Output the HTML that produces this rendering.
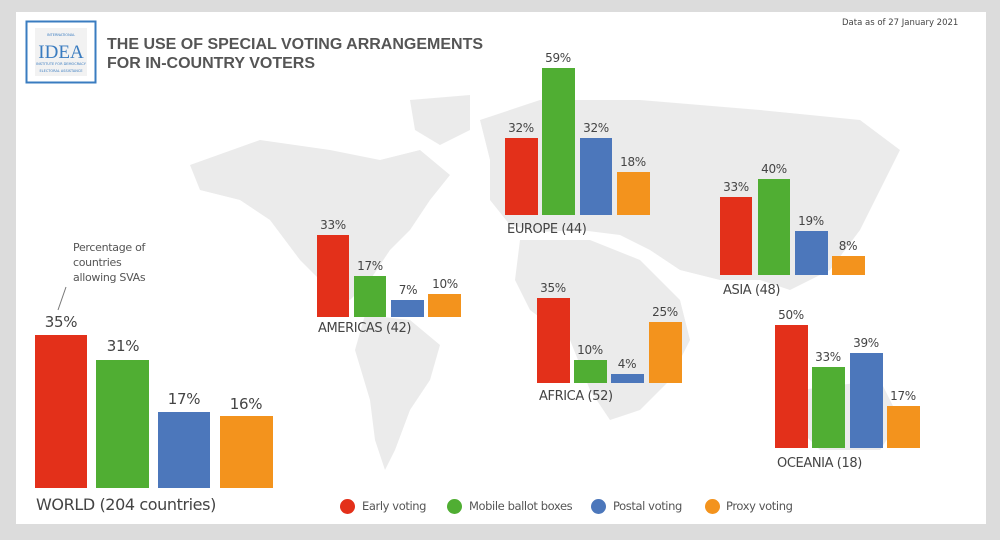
<!DOCTYPE html>
<html><head><meta charset="utf-8"><style>
body{margin:0;width:1000px;height:540px;background:#dcdcdc;position:relative;overflow:hidden;font-family:"DejaVu Sans","Liberation Sans",sans-serif}
#p{position:absolute;left:16px;top:12px;width:970px;height:512px;background:#fff}
.b{position:absolute}
.l{position:absolute;font-size:12px;color:#444;text-align:center;width:50px;transform:translateX(-50%);letter-spacing:-0.3px}
.t{position:absolute;font-size:13px;color:#444;letter-spacing:-0.4px}
.lg{position:absolute;top:499px;width:15px;height:15px;border-radius:50%}
.lt{position:absolute;top:499px;font-size:11.5px;color:#555;letter-spacing:-0.4px}
</style></head><body>
<div id="p"></div>
<svg style="position:absolute;left:0;top:0" width="1000" height="540">
<g fill="#ebebeb">
<path d="M190 165 L260 140 L330 150 L380 160 L420 150 L450 175 L430 200 L410 230 L390 250 L370 280 L350 300 L330 290 L300 260 L270 220 L240 200 L200 190 Z"/>
<path d="M365 315 L410 320 L440 345 L430 380 L410 410 L395 450 L385 470 L375 440 L370 400 L355 350 Z"/>
<path d="M480 120 L540 100 L640 100 L760 110 L860 120 L900 150 L880 190 L860 230 L830 270 L790 290 L760 280 L720 280 L680 270 L650 250 L620 235 L580 230 L540 232 L510 225 L490 200 L490 160 Z"/>
<path d="M520 240 L590 240 L640 260 L680 300 L690 340 L670 380 L640 410 L610 420 L590 390 L570 340 L530 310 L515 280 Z"/>
<path d="M800 390 L880 380 L900 420 L880 450 L820 450 L800 430 Z"/>
<path d="M410 100 L470 95 L470 130 L440 145 L415 130 Z"/>
</g>
<line x1="66" y1="287" x2="58" y2="310" stroke="#777" stroke-width="1"/>
<rect x="26.5" y="21.5" width="69" height="61" fill="#fff" stroke="#3a7cc0" stroke-width="2"/>
<rect x="35" y="28" width="52" height="48" fill="#f2f2f2"/>
<text x="61" y="58" font-family="Liberation Serif" font-size="19" fill="#3a7cc0" text-anchor="middle">IDEA</text>
<text x="61" y="36" font-size="3.5" fill="#3a7cc0" text-anchor="middle">INTERNATIONAL</text>
<text x="61" y="65" font-size="3.5" fill="#3a7cc0" text-anchor="middle">INSTITUTE FOR DEMOCRACY</text>
<text x="61" y="72" font-size="3.5" fill="#3a7cc0" text-anchor="middle">ELECTORAL ASSISTANCE</text>
</svg>
<div style="position:absolute;left:107px;top:35px;font:bold 16px 'Liberation Sans',sans-serif;color:#555;line-height:19px">THE USE OF SPECIAL VOTING ARRANGEMENTS<br>FOR IN-COUNTRY VOTERS</div>
<div style="position:absolute;left:842px;top:18px;font-size:8.5px;color:#444">Data as of 27 January 2021</div>
<div style="position:absolute;left:73px;top:240px;font-size:11px;color:#555;line-height:15px;letter-spacing:-0.3px">Percentage of<br>countries<br>allowing SVAs</div>

<div class="b" style="left:35px;top:335px;width:52px;height:153px;background:#e3301a"></div>
<div class="b" style="left:96px;top:360px;width:53px;height:128px;background:#50ae33"></div>
<div class="b" style="left:158px;top:412px;width:52px;height:76px;background:#4c77bb"></div>
<div class="b" style="left:220px;top:416px;width:53px;height:72px;background:#f3931d"></div>
<div class="l" style="left:61px;top:313px;font-size:15px">35%</div>
<div class="l" style="left:123px;top:337px;font-size:15px">31%</div>
<div class="l" style="left:184px;top:390px;font-size:15px">17%</div>
<div class="l" style="left:246px;top:395px;font-size:15px">16%</div>
<div class="t" style="left:36px;top:495px;font-size:16px">WORLD (204 countries)</div>

<div class="b" style="left:317px;top:235px;width:32px;height:82px;background:#e3301a"></div>
<div class="b" style="left:354px;top:276px;width:32px;height:41px;background:#50ae33"></div>
<div class="b" style="left:391px;top:300px;width:33px;height:17px;background:#4c77bb"></div>
<div class="b" style="left:428px;top:294px;width:33px;height:23px;background:#f3931d"></div>
<div class="l" style="left:333px;top:218px">33%</div>
<div class="l" style="left:370px;top:259px">17%</div>
<div class="l" style="left:408px;top:283px">7%</div>
<div class="l" style="left:445px;top:277px">10%</div>
<div class="t" style="left:318px;top:321px">AMERICAS (42)</div>

<div class="b" style="left:505px;top:138px;width:33px;height:77px;background:#e3301a"></div>
<div class="b" style="left:542px;top:68px;width:33px;height:147px;background:#50ae33"></div>
<div class="b" style="left:580px;top:138px;width:32px;height:77px;background:#4c77bb"></div>
<div class="b" style="left:617px;top:172px;width:33px;height:43px;background:#f3931d"></div>
<div class="l" style="left:521px;top:121px">32%</div>
<div class="l" style="left:558px;top:51px">59%</div>
<div class="l" style="left:596px;top:121px">32%</div>
<div class="l" style="left:633px;top:155px">18%</div>
<div class="t" style="left:507px;top:222px">EUROPE (44)</div>

<div class="b" style="left:720px;top:197px;width:32px;height:78px;background:#e3301a"></div>
<div class="b" style="left:758px;top:179px;width:32px;height:96px;background:#50ae33"></div>
<div class="b" style="left:795px;top:231px;width:33px;height:44px;background:#4c77bb"></div>
<div class="b" style="left:832px;top:256px;width:33px;height:19px;background:#f3931d"></div>
<div class="l" style="left:736px;top:180px">33%</div>
<div class="l" style="left:774px;top:162px">40%</div>
<div class="l" style="left:811px;top:214px">19%</div>
<div class="l" style="left:848px;top:239px">8%</div>
<div class="t" style="left:723px;top:283px">ASIA (48)</div>

<div class="b" style="left:537px;top:298px;width:33px;height:85px;background:#e3301a"></div>
<div class="b" style="left:574px;top:360px;width:33px;height:23px;background:#50ae33"></div>
<div class="b" style="left:611px;top:374px;width:33px;height:9px;background:#4c77bb"></div>
<div class="b" style="left:649px;top:322px;width:33px;height:61px;background:#f3931d"></div>
<div class="l" style="left:553px;top:281px">35%</div>
<div class="l" style="left:590px;top:343px">10%</div>
<div class="l" style="left:627px;top:357px">4%</div>
<div class="l" style="left:665px;top:305px">25%</div>
<div class="t" style="left:539px;top:389px">AFRICA (52)</div>

<div class="b" style="left:775px;top:325px;width:33px;height:123px;background:#e3301a"></div>
<div class="b" style="left:812px;top:367px;width:33px;height:81px;background:#50ae33"></div>
<div class="b" style="left:850px;top:353px;width:33px;height:95px;background:#4c77bb"></div>
<div class="b" style="left:887px;top:406px;width:33px;height:42px;background:#f3931d"></div>
<div class="l" style="left:791px;top:308px">50%</div>
<div class="l" style="left:828px;top:350px">33%</div>
<div class="l" style="left:866px;top:336px">39%</div>
<div class="l" style="left:903px;top:389px">17%</div>
<div class="t" style="left:777px;top:456px">OCEANIA (18)</div>

<div class="lg" style="left:340px;background:#e3301a"></div><div class="lt" style="left:362px">Early voting</div>
<div class="lg" style="left:447px;background:#50ae33"></div><div class="lt" style="left:469px">Mobile ballot boxes</div>
<div class="lg" style="left:591px;background:#4c77bb"></div><div class="lt" style="left:613px">Postal voting</div>
<div class="lg" style="left:705px;background:#f3931d"></div><div class="lt" style="left:726px">Proxy voting</div>
</body></html>
